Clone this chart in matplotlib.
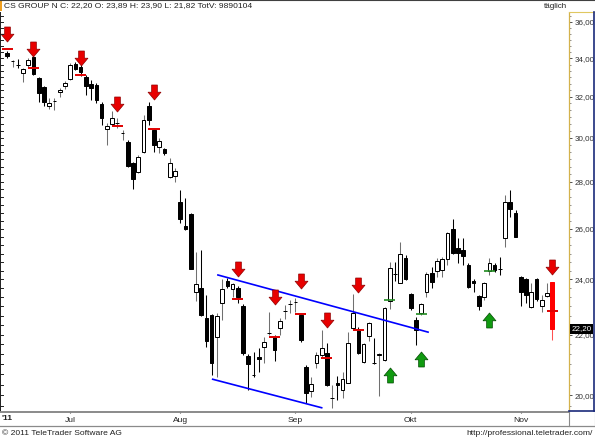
import numpy as np
import matplotlib
matplotlib.use('Agg')
import matplotlib.pyplot as plt
from matplotlib.path import Path
from matplotlib.lines import Line2D
from matplotlib.patches import Rectangle
from matplotlib.ticker import NullFormatter
import matplotlib.transforms as mtransforms

plt.rcParams['font.family'] = ['Liberation Sans', 'DejaVu Sans']

# ---------------- data (daily OHLC, CS GROUP N, Jun-Nov 2011) ----------------
opens = [34.30, 33.84, 33.66, 33.23, 33.65, 34.07, 32.96, 32.50, 31.54, 31.78,
         32.25, 32.55, 32.91, 33.70, 33.54, 33.01, 32.66, 32.60, 31.64, 30.42,
         30.66, 30.70, 30.22, 29.80, 28.84, 28.43, 29.34, 31.54, 30.37, 29.57,
         29.48, 28.21, 28.25, 27.12, 26.11, 26.61, 23.54, 23.69, 22.59, 22.70,
         21.92, 23.13, 23.94, 23.65, 23.69, 23.02, 21.28, 20.66, 21.25, 21.58,
         22.05, 21.92, 22.24, 22.83, 23.08, 23.16, 22.70, 20.91, 20.14, 21.04,
         21.32, 21.38, 19.90, 20.38, 20.17, 20.40, 22.24, 22.20, 21.07, 21.95,
         21.05, 21.30, 21.14, 23.20, 24.22, 23.87, 24.83, 23.46, 22.52, 22.77,
         23.54, 24.25, 24.33, 24.37, 24.79, 25.98, 25.22, 25.14, 24.56, 23.94,
         23.39, 23.35, 24.33, 24.56, 24.41, 25.61, 27.12, 26.65, 24.10, 24.02,
         22.98, 24.02, 23.02, 23.39, 23.89]
highs = [34.40, 33.91, 33.96, 33.46, 34.02, 34.12, 33.00, 32.55, 31.94, 31.94,
         32.45, 32.81, 33.75, 33.80, 33.65, 33.12, 32.86, 32.71, 31.74, 30.71,
         31.29, 30.95, 30.37, 29.90, 28.88, 29.20, 31.09, 31.74, 30.42, 29.99,
         29.52, 29.06, 28.61, 27.64, 27.29, 26.65, 25.06, 25.14, 23.43, 22.73,
         22.77, 24.02, 24.06, 23.87, 23.76, 23.09, 21.35, 21.42, 21.55, 21.92,
         22.81, 21.99, 22.59, 23.06, 23.24, 23.31, 22.73, 20.98, 20.59, 21.42,
         22.17, 21.72, 20.33, 20.62, 20.75, 22.09, 23.46, 22.27, 21.72, 22.45,
         21.89, 21.38, 22.98, 24.66, 24.66, 25.46, 24.94, 23.50, 22.63, 23.13,
         24.29, 24.47, 24.82, 24.86, 25.86, 26.41, 25.62, 25.62, 24.63, 24.02,
         23.43, 23.91, 24.82, 24.63, 24.86, 27.42, 27.64, 26.78, 24.13, 24.06,
         23.87, 24.06, 23.43, 23.87, 23.90]
lows = [34.00, 33.51, 33.49, 32.76, 33.54, 33.10, 31.74, 31.54, 31.39, 31.34,
        31.99, 32.40, 32.88, 33.38, 33.07, 32.09, 31.84, 31.69, 30.61, 29.67,
        30.61, 30.47, 29.90, 28.66, 27.68, 28.40, 29.30, 30.61, 29.34, 29.29,
        29.20, 28.16, 27.98, 26.24, 25.94, 24.38, 23.20, 22.66, 21.59, 20.65,
        20.59, 22.52, 23.69, 23.35, 23.13, 21.32, 20.17, 20.59, 20.75, 21.04,
        21.99, 21.10, 21.99, 22.55, 22.77, 22.81, 21.75, 19.76, 19.94, 20.88,
        21.25, 20.30, 19.61, 19.85, 19.91, 20.38, 22.20, 21.35, 21.04, 21.79,
        21.01, 19.97, 21.10, 22.91, 23.94, 23.85, 23.98, 22.88, 21.65, 22.70,
        23.35, 23.69, 24.10, 24.10, 24.56, 24.98, 24.63, 24.56, 23.69, 23.54,
        22.88, 23.24, 24.17, 24.29, 24.17, 25.26, 26.49, 25.64, 23.02, 23.13,
        22.96, 23.20, 22.81, 23.35, 21.82]
closes = [34.12, 33.88, 33.64, 33.44, 33.91, 33.17, 32.19, 31.74, 31.69, 31.80,
          32.35, 32.71, 33.65, 33.44, 33.28, 32.55, 32.45, 31.84, 30.95, 30.56,
          30.95, 30.72, 30.24, 28.70, 28.12, 29.11, 30.85, 30.85, 29.67, 29.85,
          29.29, 28.83, 28.48, 26.40, 25.98, 24.40, 23.83, 22.70, 21.79, 21.04,
          22.66, 23.65, 23.76, 23.83, 23.35, 21.39, 21.01, 20.64, 21.18, 21.75,
          22.07, 21.49, 22.48, 22.85, 23.10, 23.18, 21.81, 20.07, 20.36, 21.32,
          21.55, 20.33, 19.92, 20.34, 20.53, 21.72, 22.77, 21.38, 21.69, 22.41,
          21.03, 21.33, 22.95, 24.43, 24.20, 24.98, 24.02, 22.95, 22.17, 23.09,
          24.21, 23.91, 24.71, 24.79, 25.82, 25.02, 25.02, 24.90, 23.72, 23.87,
          23.02, 23.87, 24.63, 24.37, 24.39, 27.12, 26.82, 25.66, 23.54, 23.43,
          23.54, 23.28, 23.24, 23.50, 22.20]

# sell signals (red): candle index, arrow level, marker level
sell_idx = [0, 5, 14, 21, 28, 44, 51, 56, 61, 67, 104]
sell_arrow = [35.30, 34.48, 34.02, 31.62, 32.25, 24.38, 23.33, 23.96, 22.52, 23.78, 24.46]
sell_level = [34.48, 33.49, 33.12, 30.56, 30.42, 23.28, 21.92, 22.72, 21.21, 22.17, 22.85]
# buy signals (green)
buy_idx = [73, 79, 92]
buy_arrow = [20.66, 21.16, 22.50]
buy_level = [23.22, 22.73, 24.33]

# channel (trend lines)
upper_x = [40.2, 80.3]
upper_y = [24.17, 22.09]
lower_x = [39.2, 60.0]
lower_y = [20.51, 19.61]

month_pos = [12, 33, 55, 77, 98]
month_labels = ['Jul', 'Aug', 'Sep', 'Okt', 'Nov']
price_ticks = [20, 22, 24, 26, 28, 30, 32, 34, 36]

title = 'CS GROUP N C: 22,20 O: 23,89 H: 23,90 L: 21,82 TotV: 9890104'
last_label = '22,20'

# ---------------- figure ----------------
W, H = 595, 440
fig = plt.figure(figsize=(W / 100, H / 100), dpi=100)
fig.patch.set_facecolor('white')


def fx(x):
    return x / W


def fy(y):
    return 1 - y / H


ax = fig.add_axes([0, fy(411), fx(569), (411 - 12) / H])
ax.set_yscale('log')
ax.set_xlim(-1.39, 107.2)
ax.set_ylim(19.51, 36.57)

n = len(opens)
xs = np.arange(n)
o = np.array(opens)
h = np.array(highs)
l = np.array(lows)
c = np.array(closes)
up = c >= o

fills = []
edges = []
wicks = []
for i in range(n):
    if i == n - 1:
        fills.append('#ff0000'); edges.append('#ff0000'); wicks.append('#ff5050')
    elif up[i]:
        fills.append('white'); edges.append('black'); wicks.append('#707070')
    else:
        fills.append('black'); edges.append('black'); wicks.append('black')

ax.vlines(xs, l, h, colors=wicks, linewidth=0.75, zorder=2)
bottoms = np.minimum(o, c)
heights = np.abs(c - o)
ax.bar(xs, heights, bottom=bottoms, width=0.7, color=fills, edgecolor=edges,
       linewidth=0.72, zorder=3)

# channel lines
ax.plot(upper_x, upper_y, color='#0000ff', linewidth=1.2, zorder=4)
ax.plot(lower_x, lower_y, color='#0000ff', linewidth=1.2, zorder=4)

# signal level marks
for i, lv in zip(sell_idx, sell_level):
    ax.plot([i - 1.05, i + 1.05], [lv, lv], color='#e00000', linewidth=1.4, zorder=5,
            solid_capstyle='butt')
for i, lv in zip(buy_idx, buy_level):
    ax.plot([i - 1.05, i + 1.05], [lv, lv], color='#208a20', linewidth=1.2, zorder=5,
            solid_capstyle='butt')

# arrow markers
down_verts = [(-0.19, 0.5), (0.19, 0.5), (0.19, 0.02), (0.43, 0.02), (0.0, -0.5),
              (-0.43, 0.02), (-0.19, 0.02), (-0.19, 0.5)]
down_codes = [Path.MOVETO] + [Path.LINETO] * 6 + [Path.CLOSEPOLY]
down_path = Path(down_verts, down_codes)
up_path = Path([(x, -y) for x, y in down_verts], down_codes)

for i, p in zip(sell_idx, sell_arrow):
    ax.plot([i], [p], marker=down_path, markersize=10.8, markerfacecolor='#e80000',
            markeredgecolor='#900000', markeredgewidth=0.5, linestyle='none',
            zorder=6, clip_on=False)
for i, p in zip(buy_idx, buy_arrow):
    ax.plot([i], [p], marker=up_path, markersize=10.8, markerfacecolor='#109a10',
            markeredgecolor='#004a00', markeredgewidth=0.5, linestyle='none', zorder=6)

# spines
for s in ['top', 'bottom']:
    ax.spines[s].set_visible(False)
ax.spines['left'].set_color('#202020')
ax.spines['left'].set_linewidth(0.7)
ax.spines['right'].set_color('#d4b24c')
ax.spines['right'].set_linestyle((0, (1, 1)))
ax.spines['right'].set_linewidth(0.9)

# y ticks on the right
ax.yaxis.tick_right()
ax.set_yticks(price_ticks, labels=[f'{v:.2f}'.replace('.', ',') for v in price_ticks])
minor = [v for v in np.arange(19 + 2 / 3, 36.5, 1 / 3) if abs(v - round(v / 2) * 2) > 0.05]
ax.set_yticks(minor, minor=True)
ax.yaxis.set_minor_formatter(NullFormatter())
ax.tick_params(axis='y', which='major', direction='out', length=2.5, width=0.7,
               color='#505050', pad=1.3, labelsize=5.8, labelcolor='#303030')
ax.tick_params(axis='y', which='minor', direction='out', length=1.5, width=0.6,
               color='#808080')

# left edge small ticks
trans = mtransforms.blended_transform_factory(ax.transAxes, ax.transData)
for v in list(minor) + price_ticks:
    ax.plot([0, 0.005], [v, v], color='#202020', linewidth=0.7, transform=trans,
            clip_on=False, zorder=7)

# x ticks
ax.set_xticks(month_pos, labels=month_labels)
ax.tick_params(axis='x', direction='out', length=1.5, width=0.8, color='#404040',
               pad=2.6, labelsize=6.1, labelcolor='#202020')

# last price box
ax.text(1.0 + 2.5 / 569, c[-1], last_label, transform=trans, ha='left', va='center',
        fontsize=5.8, color='white', zorder=10, clip_on=False,
        bbox=dict(boxstyle='square,pad=0.15', facecolor='black', edgecolor='none'))

# ---------------- frame decorations ----------------
def fline(x0, y0, x1, y1, color, lw):
    fig.add_artist(Line2D([fx(x0), fx(x1)], [fy(y0), fy(y1)], color=color,
                          linewidth=lw, transform=fig.transFigure))

fline(0, 0.5, 595, 0.5, '#404040', 0.8)           # top border
fline(0, 411.5, 569, 411.5, '#8a8a8a', 1.4)        # x band top
fline(0, 426, 595, 426, '#8a8a8a', 0.9)            # x band bottom
fline(569, 411, 569, 426, '#8a8a8a', 0.8)
fline(594.5, 411, 594.5, 426, '#8a8a8a', 0.8)
fline(569, 12, 595, 12, '#e0c860', 0.8)            # price panel top
fline(594, 12, 594, 411, '#1a2a7a', 1.2)           # price panel right
fline(569, 411, 595, 411, '#1a2a7a', 1.2)          # price panel bottom
fig.add_artist(Rectangle((0, fy(11)), fx(2), 10 / H, facecolor='#f0a020',
                         edgecolor='none', transform=fig.transFigure))

fig.text(fx(3.5), fy(5.5), title, ha='left', va='center', fontsize=6.1, color='#202020')
fig.text(fx(567), fy(6), 'täglich', ha='right', va='center', fontsize=5.8, color='#202020')
fig.text(fx(2), fy(418.5), "'11", ha='left', va='center', fontsize=6.1,
         fontweight='bold', color='#202020')
fig.text(fx(2), fy(433), '© 2011 TeleTrader Software AG', ha='left', va='center',
         fontsize=6.1, color='#202020')
fig.text(fx(593), fy(433), 'http://professional.teletrader.com/', ha='right',
         va='center', fontsize=6.1, color='#202020')

fig.savefig('out.png', dpi=100)
